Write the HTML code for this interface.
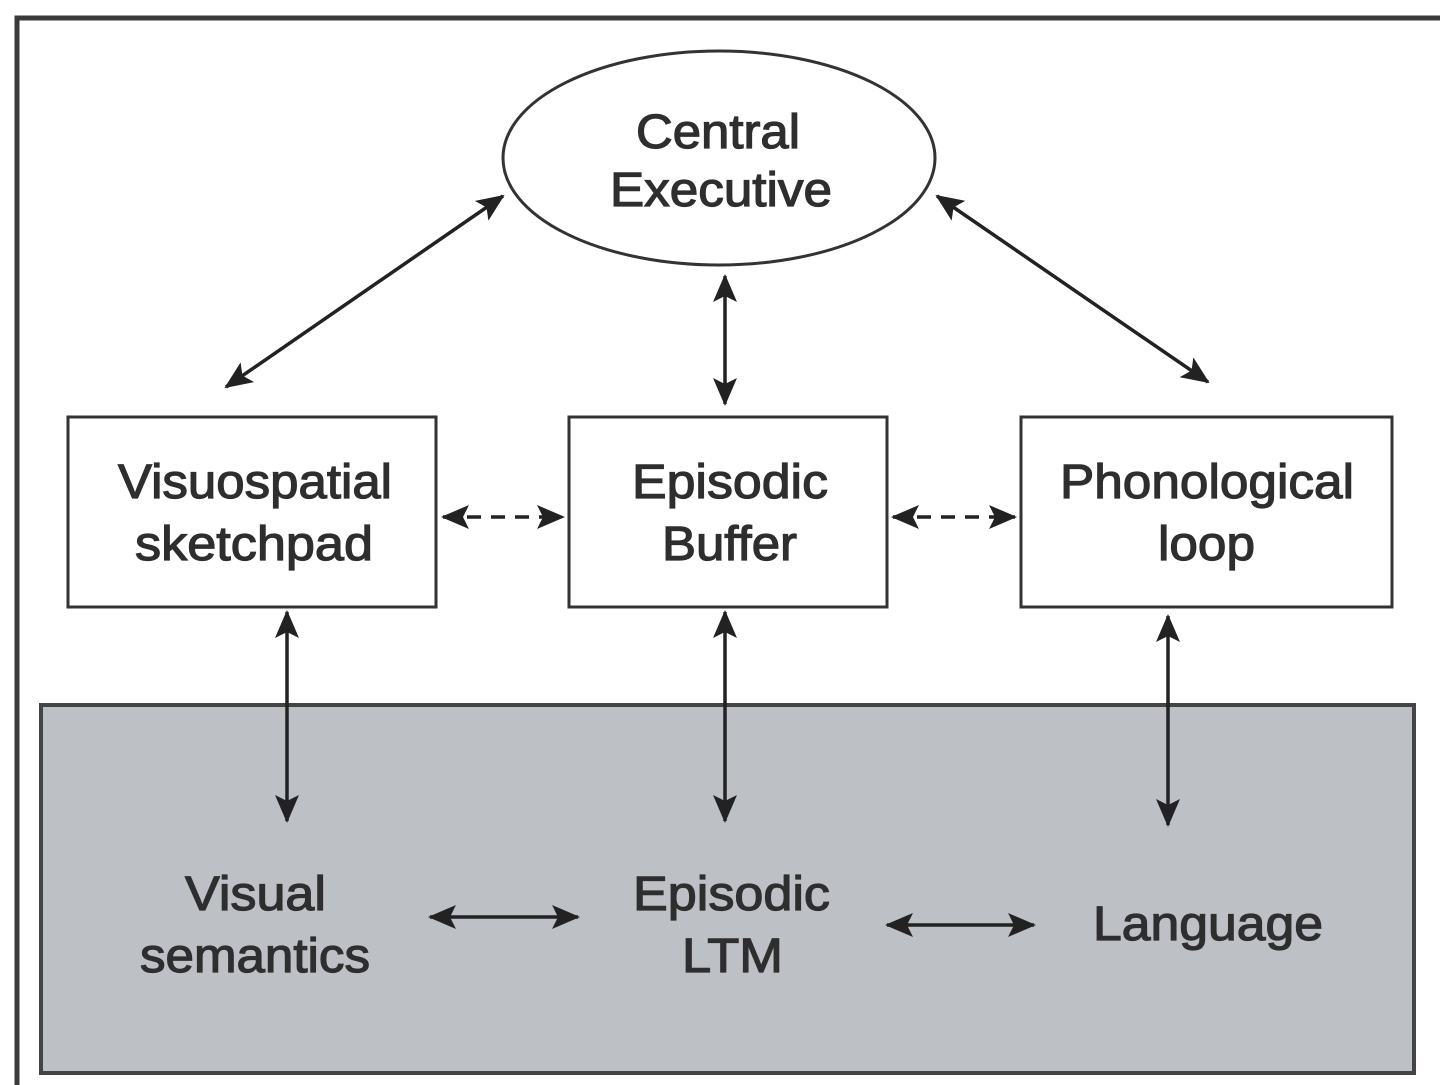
<!DOCTYPE html>
<html><head><meta charset="utf-8"><style>
html,body{margin:0;padding:0;background:#fff;width:1440px;height:1085px;overflow:hidden}
svg{display:block}
text{font-family:"Liberation Sans",Arial,sans-serif;fill:#2e2e2e;font-size:48px;stroke:#2e2e2e;stroke-width:1.2px}
</style></head><body>
<svg width="1440" height="1085" viewBox="0 0 1440 1085">
<defs>
<marker id="h" viewBox="0 0 28 24" refX="26" refY="12" markerWidth="28" markerHeight="24" orient="auto-start-reverse" markerUnits="userSpaceOnUse">
<path d="M0,0 L28,12 L0,24 L6,12 Z" fill="#222"/>
</marker>
</defs>
<path d="M17,1085 L17,18 L1440,18" fill="none" stroke="#3a3a3a" stroke-width="5"/>
<rect x="41" y="705" width="1373" height="368" fill="#bdc0c4" stroke="#444" stroke-width="4"/>
<ellipse cx="719" cy="158" rx="216" ry="107" fill="#fff" stroke="#333" stroke-width="3"/>
<rect x="68" y="417" width="368" height="190" fill="#fff" stroke="#333" stroke-width="3"/>
<rect x="569" y="417" width="318" height="190" fill="#fff" stroke="#333" stroke-width="3"/>
<rect x="1021" y="417" width="371" height="190" fill="#fff" stroke="#333" stroke-width="3"/>
<g stroke="#222" stroke-width="3.5" fill="none">
<line x1="226" y1="387" x2="503" y2="196" marker-start="url(#h)" marker-end="url(#h)"/>
<line x1="937" y1="196" x2="1208" y2="382" marker-start="url(#h)" marker-end="url(#h)"/>
<line x1="725" y1="276" x2="725" y2="404" marker-start="url(#h)" marker-end="url(#h)"/>
<line x1="443" y1="517" x2="563" y2="517" stroke-dasharray="14,10" marker-start="url(#h)" marker-end="url(#h)"/>
<line x1="893" y1="517" x2="1015" y2="517" stroke-dasharray="14,10" marker-start="url(#h)" marker-end="url(#h)"/>
<line x1="287" y1="612" x2="287" y2="821" marker-start="url(#h)" marker-end="url(#h)"/>
<line x1="725" y1="612" x2="725" y2="821" marker-start="url(#h)" marker-end="url(#h)"/>
<line x1="1168" y1="616" x2="1168" y2="825" marker-start="url(#h)" marker-end="url(#h)"/>
<line x1="430" y1="917" x2="578" y2="917" marker-start="url(#h)" marker-end="url(#h)"/>
<line x1="887" y1="925" x2="1034" y2="925" marker-start="url(#h)" marker-end="url(#h)"/>
</g>
<text x="636" y="148" textLength="164" lengthAdjust="spacingAndGlyphs">Central</text>
<text x="610" y="206" textLength="222" lengthAdjust="spacingAndGlyphs">Executive</text>
<text x="118" y="498" textLength="274" lengthAdjust="spacingAndGlyphs">Visuospatial</text>
<text x="135" y="560" textLength="238" lengthAdjust="spacingAndGlyphs">sketchpad</text>
<text x="632" y="498" textLength="196" lengthAdjust="spacingAndGlyphs">Episodic</text>
<text x="662" y="560" textLength="135" lengthAdjust="spacingAndGlyphs">Buffer</text>
<text x="1060" y="498" textLength="294" lengthAdjust="spacingAndGlyphs">Phonological</text>
<text x="1158" y="560" textLength="97" lengthAdjust="spacingAndGlyphs">loop</text>
<text x="185" y="910" textLength="141" lengthAdjust="spacingAndGlyphs">Visual</text>
<text x="140" y="972" textLength="230" lengthAdjust="spacingAndGlyphs">semantics</text>
<text x="633" y="910" textLength="197" lengthAdjust="spacingAndGlyphs">Episodic</text>
<text x="682" y="972" textLength="101" lengthAdjust="spacingAndGlyphs">LTM</text>
<text x="1093" y="940" textLength="230" lengthAdjust="spacingAndGlyphs">Language</text>
</svg>
</body></html>
